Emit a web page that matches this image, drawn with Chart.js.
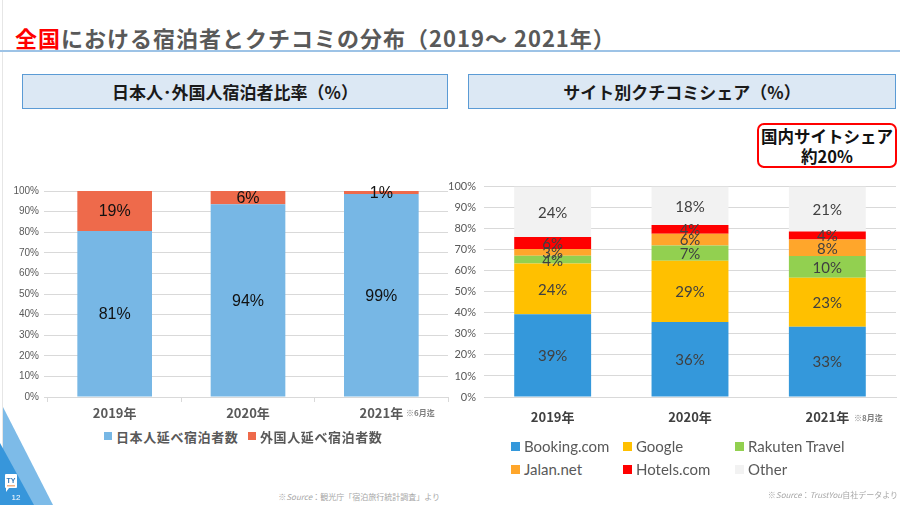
<!DOCTYPE html>
<html lang="ja">
<head>
<meta charset="utf-8">
<script src="https://cdn.jsdelivr.net/npm/chart.js@4.4.1/dist/chart.umd.min.js"></script>
<style>
  html, body { margin: 0; padding: 0; background: #fff; }
  #slide { position: relative; width: 900px; height: 505px; overflow: hidden; background: #fff;
    font-family: "Noto Sans CJK JP", "Noto Sans", sans-serif; }
  .abs { position: absolute; }
  #title { left: 15px; top: 21px; font-size: 22px; font-weight: bold; color: #595959; letter-spacing: 1px; white-space: nowrap; line-height: 32px; }
  #title span { color: #ff0000; }
  #rule { left: 0; top: 50px; width: 900px; height: 2px; background: #9dc3e6; }
  #edge { left: 2px; top: 0; width: 1px; height: 505px; background: #e6e6e6; }
  .head { top: 74px; height: 35px; background: #dce8f4; border: 1px solid #5b9bd5; box-sizing: border-box;
    font-size: 17px; font-weight: bold; color: #1a1a1a; text-align: center; line-height: 33px; }
  #callout { left: 757px; top: 123px; width: 140px; height: 45px; border: 2px solid #ff0000; border-radius: 7px;
    box-sizing: border-box; background: #fff; text-align: center; font-size: 16.5px; font-weight: bold; color: #111; line-height: 20px; padding-top: 1px; }
  .xnote { font-size: 8px; font-weight: bold; color: #7f7f7f; white-space: nowrap; }
  .leg { white-space: nowrap; display: flex; align-items: center; }
  .leg i { display: inline-block; }
  .src { font-size: 8px; color: #a6a6a6; white-space: nowrap; }
</style>
</head>
<body>
<div id="slide">
  <div id="edge" class="abs"></div>
  <div id="title" class="abs"><span>全国</span>における宿泊者とクチコミの分布（2019～ 2021年）</div>
  <div id="rule" class="abs"></div>

  <div class="abs head" style="left:22px; width:426px;">日本人･外国人宿泊者比率（%）</div>
  <div class="abs head" style="left:468px; width:428px;">サイト別クチコミシェア（%）</div>

  <div id="callout" class="abs">国内サイトシェア<br>約20%</div>

  <canvas id="leftChart" class="abs" width="452" height="245" style="left:0; top:180px;"></canvas>
  <canvas id="rightChart" class="abs" width="460" height="262" style="left:440px; top:172px;"></canvas>

  <div class="abs xnote" style="left:406px; top:407px;">※6月迄</div>
  <div class="abs xnote" style="left:854px; top:412px;">※8月迄</div>

  <div id="leftLegend"></div>
  <div id="rightLegend"></div>

  <div class="abs src" style="right:460px; top:491px;">※<i>Source</i>：観光庁「宿泊旅行統計調査」より</div>
  <div class="abs src" style="right:2px; top:489px;">※<i>Source</i>：<i>TrustYou</i>自社データより</div>

  <svg class="abs" style="left:0; top:400px;" width="60" height="105">
    <polygon points="3,7 53,105 3,105" fill="#7dbbe8"/>
    <polygon points="0,43 34,105 0,105" fill="#3796db"/>
    <rect x="5" y="74" width="12" height="14" rx="1" fill="#fff"/>
    <polygon points="6,88 9,88 6,92" fill="#fff"/>
    <text x="11" y="83" font-size="7" font-weight="bold" fill="#2e75b6" text-anchor="middle" font-family="Liberation Sans">TY</text>
    <rect x="7" y="85" width="8" height="1.5" fill="#f4b183"/>
    <text x="16" y="100" font-size="8" fill="#fff" text-anchor="middle" font-family="Liberation Sans">12</text>
  </svg>
</div>

<script>
  // left chart: 日本人・外国人宿泊者比率
  var leftYears = ['2019年', '2020年', '2021年'];
  var leftJapanese = [80.6, 93.6, 98.6];
  var leftForeign = [19.4, 6.4, 1.4];
  var leftNames = ['日本人延べ宿泊者数', '外国人延べ宿泊者数'];
  var leftColors = ['#77b7e5', '#ee6a4b'];

  // right chart: サイト別クチコミシェア
  var rightYears = ['2019年', '2020年', '2021年'];
  var siteNames = ['Booking.com', 'Google', 'Rakuten Travel', 'Jalan.net', 'Hotels.com', 'Other'];
  var bookingShare = [39.3, 35.6, 33.4];
  var googleShare = [24.1, 29.2, 23.3];
  var rakutenShare = [3.7, 7.2, 10.3];
  var jalanShare = [3.2, 5.6, 7.8];
  var hotelsShare = [5.7, 4.2, 3.9];
  var otherShare = [24.0, 18.2, 21.3];
  var siteColors = ['#3498db', '#ffc000', '#92d050', '#ffa62b', '#ff0000', '#f2f2f2'];

  var yTickStep = 10;

  // draws the % value in the middle of every stacked segment
  var segmentLabels = {
    id: 'segmentLabels',
    afterDatasetsDraw: function (chart, args, opts) {
      var ctx = chart.ctx;
      ctx.save();
      ctx.font = opts.font;
      ctx.fillStyle = opts.color;
      ctx.textAlign = 'center';
      ctx.textBaseline = 'middle';
      chart.data.datasets.forEach(function (ds, i) {
        chart.getDatasetMeta(i).data.forEach(function (bar, j) {
          ctx.fillText(Math.round(ds.data[j]) + '%', bar.x, (bar.y + bar.base) / 2 + 1);
        });
      });
      ctx.restore();
    }
  };

  function pct(v) { return v + '%'; }

  new Chart(document.getElementById('leftChart').getContext('2d'), {
    type: 'bar',
    data: {
      labels: leftYears,
      datasets: [
        { label: leftNames[0], data: leftJapanese, backgroundColor: leftColors[0] },
        { label: leftNames[1], data: leftForeign, backgroundColor: leftColors[1] }
      ]
    },
    options: {
      responsive: false,
      animation: false,
      layout: { padding: { top: 9, right: 4, left: 0, bottom: 0 } },
      datasets: { bar: { categoryPercentage: 1, barPercentage: 0.56, borderWidth: 0 } },
      scales: {
        x: {
          stacked: true,
          afterFit: function (s) { s.height = 28; },
          grid: { drawOnChartArea: false, tickLength: 5, color: '#d9d9d9' },
          border: { color: '#d9d9d9' },
          ticks: { color: '#595959', padding: 3, font: { family: 'Noto Sans CJK JP', size: 13, weight: 'bold' } }
        },
        y: {
          stacked: true, min: 0, max: 100,
          afterFit: function (s) { s.width = 48; },
          grid: { color: '#d9d9d9', tickLength: 4 },
          border: { display: false },
          ticks: { stepSize: yTickStep, callback: pct, color: '#595959', padding: 5,
            font: { family: 'Liberation Sans', size: 10 } }
        }
      },
      plugins: {
        legend: { display: false },
        tooltip: { enabled: false },
        segmentLabels: { font: '16px "Liberation Sans"', color: '#111' }
      }
    },
    plugins: [segmentLabels]
  });

  var siteData = [bookingShare, googleShare, rakutenShare, jalanShare, hotelsShare, otherShare];

  new Chart(document.getElementById('rightChart').getContext('2d'), {
    type: 'bar',
    data: {
      labels: rightYears,
      datasets: siteNames.map(function (name, i) {
        return { label: name, data: siteData[i], backgroundColor: siteColors[i] };
      })
    },
    options: {
      responsive: false,
      animation: false,
      layout: { padding: { top: 11, right: 4, left: 0, bottom: 0 } },
      datasets: { bar: { categoryPercentage: 1, barPercentage: 0.56, borderWidth: 0 } },
      scales: {
        x: {
          stacked: true,
          afterFit: function (s) { s.height = 37; },
          grid: { display: false },
          border: { color: '#d9d9d9' },
          ticks: { color: '#404040', padding: 4, font: { family: 'Noto Sans CJK JP', size: 13, weight: 'bold' } }
        },
        y: {
          stacked: true, min: 0, max: 100,
          afterFit: function (s) { s.width = 44; },
          grid: { color: '#d9d9d9', tickLength: 0 },
          border: { display: false },
          ticks: { stepSize: yTickStep, callback: pct, color: '#595959', padding: 8,
            font: { family: 'Lato', size: 11 } }
        }
      },
      plugins: {
        legend: { display: false },
        tooltip: { enabled: false },
        segmentLabels: { font: '15px Lato', color: '#404040' }
      }
    },
    plugins: [segmentLabels]
  });

  // legends built from the same name/colour arrays
  function legendItem(parent, x, y, name, color, box, style) {
    var el = document.createElement('div');
    el.className = 'abs leg';
    el.style.left = x + 'px';
    el.style.top = y + 'px';
    el.style.cssText += style;
    var sw = document.createElement('i');
    sw.style.width = box + 'px';
    sw.style.height = box + 'px';
    sw.style.background = color;
    sw.style.marginRight = '4px';
    el.appendChild(sw);
    el.appendChild(document.createTextNode(name));
    parent.appendChild(el);
  }

  var slide = document.getElementById('slide');
  var leftLegendX = [104, 248];
  leftNames.forEach(function (n, i) {
    legendItem(slide, leftLegendX[i], 427, n, leftColors[i], 8,
      'font-size:13px;font-weight:bold;color:#595959;letter-spacing:0.6px;height:18px;');
  });
  var rightLegendX = [511, 623, 735];
  var rightLegendY = [436, 459];
  siteNames.forEach(function (n, i) {
    legendItem(slide, rightLegendX[i % 3], rightLegendY[Math.floor(i / 3)], n, siteColors[i], 9,
      'font-family:Lato;font-size:15px;color:#595959;height:20px;');
  });
</script>
</body>
</html>
